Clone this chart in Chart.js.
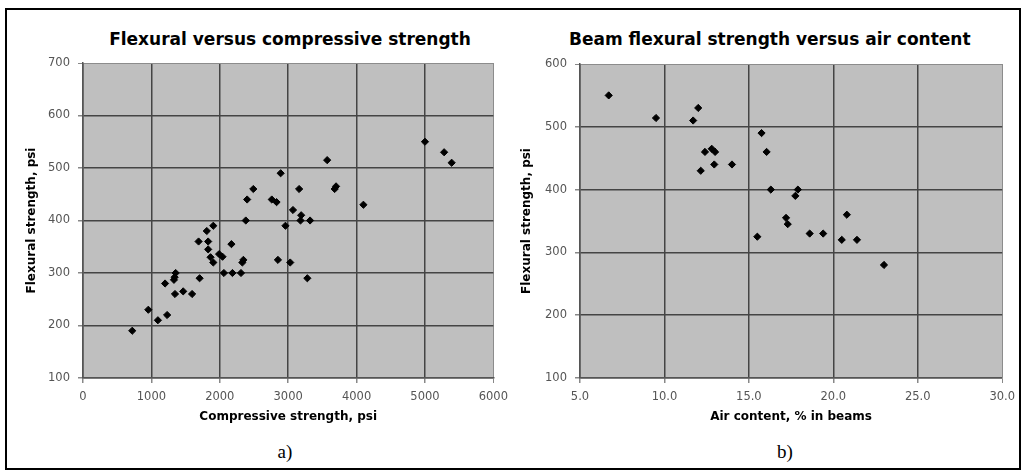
<!DOCTYPE html>
<html>
<head>
<meta charset="utf-8">
<script src="https://cdn.jsdelivr.net/npm/chart.js@4.4.0/dist/chart.umd.min.js"></script>
<style>
  body { margin: 0; background: #fff; width: 1022px; height: 471px; overflow: hidden; position: relative; font-family: "DejaVu Sans", sans-serif; }
  #frame { position: absolute; left: 5px; top: 8px; width: 1016px; height: 462px; border: 2px solid #000; box-sizing: border-box; }
  .title { position: absolute; top: 29px; width: 400px; height: 20px; line-height: 20px; font-weight: bold; font-size: 17px; text-align: center; white-space: nowrap; color: #000; }
  .cap { position: absolute; top: 440px; width: 60px; line-height: 24px; font-family: "Liberation Serif", serif; font-size: 19px; text-align: center; color: #000; }
  canvas { position: absolute; top: 0; }
</style>
</head>
<body>
<div id="frame"></div>
<div class="title" style="left:90px">Flexural versus compressive strength</div>
<div class="title" style="left:569px">Beam flexural strength versus air content</div>
<canvas id="chartA" width="515" height="440" style="left:0"></canvas>
<canvas id="chartB" width="512" height="440" style="left:510px"></canvas>
<div class="cap" style="left:255px">a)</div>
<div class="cap" style="left:755px">b)</div>
<script>
// a) flexural vs compressive strength (psi)
const compStrength = [720, 955, 1095, 1230, 1200, 1330, 1340, 1355, 1345, 1465, 1595, 1705, 1690, 1810, 1830, 1830, 1865, 1905, 1905, 1990, 2040, 2060, 2185, 2310, 2170, 2330, 2345, 2380, 2400, 2490, 2760, 2830, 2850, 2890, 2960, 3030, 3070, 3160, 3190, 3180, 3320, 3280, 3570, 3680, 3700, 4100, 5000, 5280, 5390];
const flexStrengthA = [190, 230, 210, 220, 280, 287, 292, 300, 260, 265, 260, 290, 360, 380, 360, 345, 330, 320, 390, 336, 331, 300, 300, 300, 355, 320, 325, 400, 440, 460, 440, 435, 325, 490, 390, 320, 420, 460, 410, 400, 400, 290, 515, 460, 465, 430, 550, 530, 510];

// b) beam flexural strength vs air content (%)
const airContent = [6.7, 9.5, 12.0, 11.7, 15.75, 12.4, 12.8, 13.0, 16.05, 12.95, 14.0, 12.15, 16.3, 17.2, 17.3, 15.5, 17.9, 17.75, 20.8, 18.6, 19.4, 20.5, 21.4, 23.0];
const flexStrengthB = [550, 514, 530, 510, 490, 460, 465, 460, 460, 440, 440, 430, 400, 355, 345, 325, 400, 390, 360, 330, 330, 320, 320, 280];

const xRangeA = [0, 6000, 1000];
const xRangeB = [5, 30, 5];
const yRangeA = [100, 700, 100];
const yRangeB = [100, 600, 100];

const tickFont = { family: "DejaVu Sans", size: 11.5 };
const axisTitleFont = { family: "DejaVu Sans", size: 12, weight: "bold" };

const plotBg = {
  id: "plotBg",
  beforeDraw(chart) {
    const a = chart.chartArea;
    const ctx = chart.ctx;
    ctx.save();
    ctx.fillStyle = "#bfbfbf";
    ctx.fillRect(a.left, a.top, a.right - a.left, a.bottom - a.top);
    ctx.restore();
  },
};

function toPoints(xs, ys) {
  return xs.map((x, i) => ({ x: x, y: ys[i] }));
}

function grid(maxVal) {
  return {
    color: (ctx) => (ctx.tick && ctx.tick.value === maxVal ? "#8c8c8c" : "#444"),
    lineWidth: (ctx) => (ctx.tick && ctx.tick.value === maxVal ? 1 : 1.5),
    tickLength: 5,
    tickColor: "#888",
  };
}

function makeChart(id, xs, ys, xr, yr, xTitle, opts) {
  return new Chart(document.getElementById(id), {
    type: "scatter",
    data: {
      datasets: [
        {
          data: toPoints(xs, ys),
          pointStyle: "rectRot",
          pointRadius: 3.6,
          backgroundColor: "#000",
          borderColor: "#000",
          borderWidth: 1,
        },
      ],
    },
    options: {
      responsive: false,
      animation: false,
      devicePixelRatio: 1,
      layout: { padding: opts.padding },
      plugins: {
        legend: { display: false },
        tooltip: { enabled: false },
      },
      scales: {
        x: {
          type: "linear",
          min: xr[0],
          max: xr[1],
          afterFit: (s) => { s.height = 62; },
          ticks: {
            stepSize: xr[2],
            color: "#555",
            font: tickFont,
            padding: 7,
            maxRotation: 0,
            callback: opts.xFormat,
          },
          grid: grid(xr[1]),
          border: { color: "#555", width: 1.5 },
          title: {
            display: true,
            text: xTitle,
            color: "#000",
            font: axisTitleFont,
            padding: { top: 0, bottom: 16 },
          },
        },
        y: {
          min: yr[0],
          max: yr[1],
          afterFit: (s) => { s.width = opts.yWidth; },
          ticks: {
            stepSize: yr[2],
            color: "#555",
            font: tickFont,
            padding: 8,
          },
          grid: grid(yr[1]),
          border: { color: "#555", width: 1.5 },
          title: {
            display: true,
            text: "Flexural strength, psi",
            color: "#000",
            font: axisTitleFont,
            padding: { top: opts.yTitlePad, bottom: 0 },
          },
        },
      },
    },
    plugins: [plotBg],
  });
}

makeChart("chartA", compStrength, flexStrengthA, xRangeA, yRangeA, "Compressive strength, psi", {
  padding: { top: 63, right: 17, left: 0, bottom: 0 },
  yWidth: 83,
  yTitlePad: 25,
  xFormat: (v) => v,
});

makeChart("chartB", airContent, flexStrengthB, xRangeB, yRangeB, "Air content, % in beams", {
  padding: { top: 64, right: 19, left: 0, bottom: 0 },
  yWidth: 70,
  yTitlePad: 10,
  xFormat: (v) => Number(v).toFixed(1),
});
</script>
</body>
</html>
